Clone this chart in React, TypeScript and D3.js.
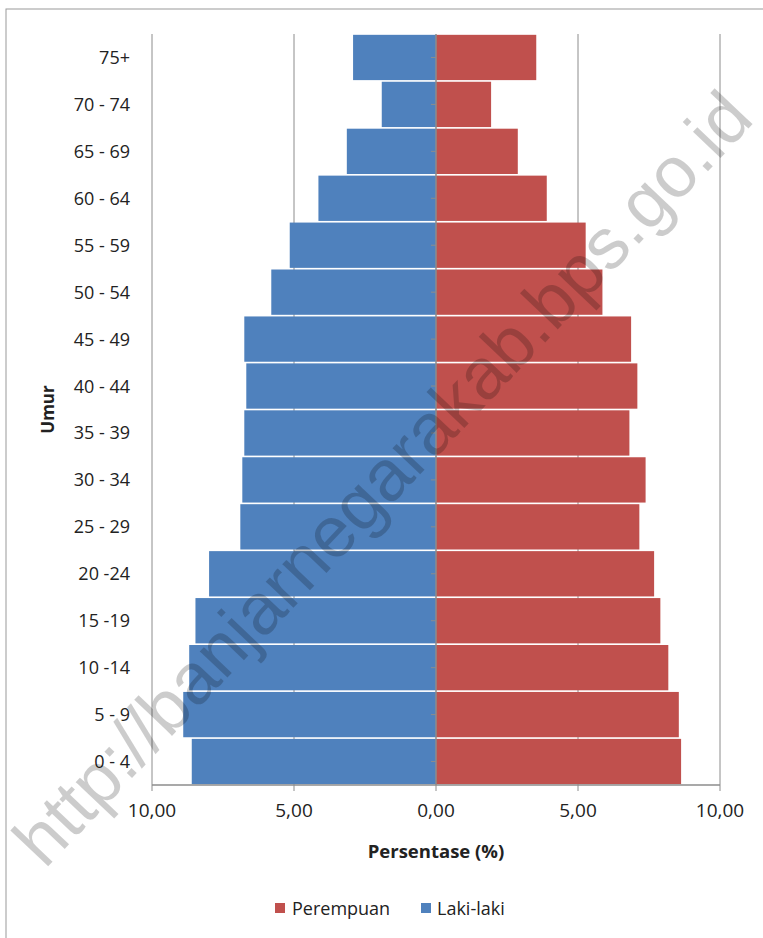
import React from 'react';
import * as d3 from 'd3';

// age groups, youngest first
const ageGroups = ['0 - 4', '5 - 9', '10 -14', '15 -19', '20 -24', '25 - 29', '30 - 34', '35 - 39',
  '40 - 44', '45 - 49', '50 - 54', '55 - 59', '60 - 64', '65 - 69', '70 - 74', '75+'];
const lakiLaki = [8.60, 8.90, 8.69, 8.47, 7.99, 6.89, 6.82, 6.75, 6.68, 6.75, 5.80, 5.15, 4.14, 3.14, 1.91, 2.92];
const perempuan = [8.63, 8.55, 8.18, 7.90, 7.68, 7.16, 7.38, 6.81, 7.09, 6.87, 5.86, 5.27, 3.90, 2.88, 1.94, 3.53];
const xTicks = [-10, -5, 0, 5, 10];

const BLUE = '#4F81BD';
const RED = '#C0504D';
const GRID = '#8C8C8C';
const FONT = '"Open Sans", "Noto Sans", sans-serif';

const width = 763;
const height = 938;
const plot = { left: 152, right: 720, top: 34, bottom: 785 };

const App: React.FC = () => {
  const x = d3.scaleLinear().domain([-10, 10]).range([plot.left, plot.right]);
  const y = d3.scaleBand<string>()
    .domain([...ageGroups].reverse())
    .range([plot.top, plot.bottom])
    .paddingInner(0.035)
    .paddingOuter(0.0175);
  const fmt = (v: number) => Math.abs(v).toFixed(2).replace('.', ',');

  return (
    <div style={{ position: 'absolute', left: 0, top: 0 }}>
      <svg width={width} height={height} style={{ display: 'block', background: '#fff' }}>
        {/* chart frame */}
        <rect x={6} y={9} width={width + 20} height={height + 20} fill="#fff" stroke="#9a9a9a" strokeWidth={1} />

        {/* gridlines */}
        {xTicks.filter(t => t !== 0).map(t => (
          <line key={`g${t}`} x1={x(t)} x2={x(t)} y1={plot.top} y2={plot.bottom} stroke={GRID} strokeWidth={1} />
        ))}

        {/* bars */}
        {ageGroups.map((g, i) => (
          <g key={g}>
            <rect x={x(-lakiLaki[i])} y={y(g)} width={x(0) - x(-lakiLaki[i])} height={y.bandwidth()} fill={BLUE} />
            <rect x={x(0)} y={y(g)} width={x(perempuan[i]) - x(0)} height={y.bandwidth()} fill={RED} />
          </g>
        ))}

        {/* vertical category axis */}
        <line x1={x(0)} x2={x(0)} y1={plot.top} y2={plot.bottom} stroke={GRID} strokeWidth={1.5} />
        {ageGroups.map(g => (
          <line key={`t${g}`} x1={x(0) - 5} x2={x(0)} y1={(y(g) || 0) + y.bandwidth() / 2} y2={(y(g) || 0) + y.bandwidth() / 2} stroke={GRID} strokeWidth={1} />
        ))}

        {/* bottom value axis */}
        <line x1={plot.left} x2={plot.right} y1={plot.bottom} y2={plot.bottom} stroke={GRID} strokeWidth={1.5} />
        {xTicks.map(t => (
          <g key={`x${t}`}>
            <line x1={x(t)} x2={x(t)} y1={plot.bottom} y2={plot.bottom + 6} stroke={GRID} strokeWidth={1} />
            <text x={x(t)} y={plot.bottom + 32} textAnchor="middle" fontFamily={FONT} fontSize={19} fill="#222">{fmt(t)}</text>
          </g>
        ))}

        {/* category labels */}
        {ageGroups.map(g => (
          <text key={`l${g}`} x={130} y={(y(g) || 0) + y.bandwidth() / 2} dy="0.36em" textAnchor="end"
            fontFamily={FONT} fontSize={18} fill="#222">{g}</text>
        ))}

        {/* axis titles */}
        <text x={x(0)} y={858} textAnchor="middle" fontFamily={FONT} fontSize={18.5} fontWeight="bold" fill="#222">Persentase (%)</text>
        <text transform={`translate(54,${(plot.top + plot.bottom) / 2}) rotate(-90)`} textAnchor="middle"
          fontFamily={FONT} fontSize={17} fontWeight="bold" fill="#222">Umur</text>

        {/* legend */}
        <rect x={275} y={903} width={10} height={10} fill={RED} />
        <text x={292} y={915} fontFamily={FONT} fontSize={18} fill="#222">Perempuan</text>
        <rect x={421} y={903} width={10} height={10} fill={BLUE} />
        <text x={437} y={915} fontFamily={FONT} fontSize={18} fill="#222">Laki-laki</text>

        {/* watermark */}
        <text transform="translate(382,478) rotate(-46.5)" textAnchor="middle" dy="0.35em"
          fontFamily='"Liberation Sans", Arial, sans-serif' fontSize={72} fill="#000" fillOpacity={0.2}>
          http://banjarnegarakab.bps.go.id
        </text>
      </svg>
    </div>
  );
};

export default App;
